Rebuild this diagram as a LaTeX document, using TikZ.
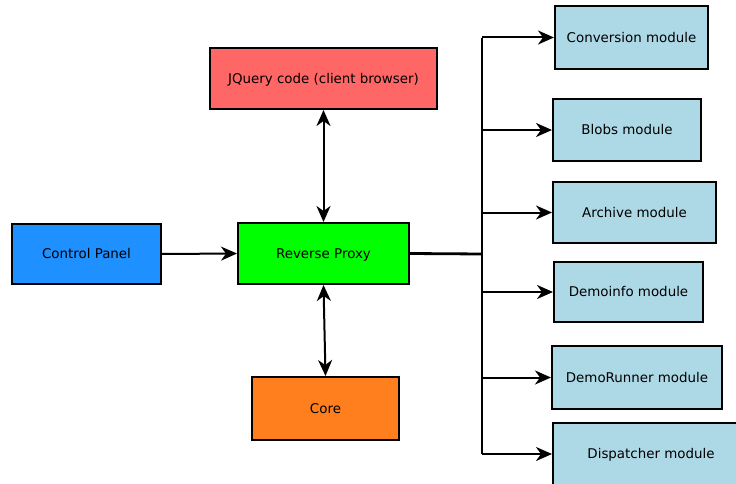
\documentclass[tikz,border=0pt]{standalone}
\usepackage{fontspec}
\setmainfont{DejaVu Sans}
\usetikzlibrary{arrows.meta}
\definecolor{jqred}{HTML}{FF6666}
\definecolor{cpblue}{HTML}{1E90FF}
\definecolor{rpgreen}{HTML}{00FF00}
\definecolor{coreorange}{HTML}{FF7F1E}
\definecolor{modblue}{HTML}{ADD8E6}
\begin{document}
\begin{tikzpicture}[x=1pt,y=-1pt,
  box/.style={draw=black,line width=2pt,inner sep=0pt,text height=9.8pt,text depth=0pt,font=\fontsize{13.4}{15}\selectfont},
  tip/.tip={Stealth[length=16pt,width=14pt,inset=5pt]},
  conn/.style={line width=2pt,-tip},
  bconn/.style={line width=2pt,tip-tip}]
\useasboundingbox (0,0) rectangle (736,484);
\clip (0,0) rectangle (736,484);
% main boxes
\node[box,fill=jqred,minimum width=227pt,minimum height=61pt] (jq) at (323.5,78.5) {JQuery code (client browser)};
\node[box,fill=cpblue,minimum width=149pt,minimum height=60pt] (cp) at (86.5,254) {Control Panel};
\node[box,fill=rpgreen,minimum width=171pt,minimum height=61pt] (rp) at (323.5,253.5) {Reverse Proxy};
\node[box,fill=coreorange,minimum width=147pt,minimum height=63pt] (core) at (325.5,408.5) {Core};
% modules
\node[box,fill=modblue,minimum width=153pt,minimum height=63pt] (m1) at (631.5,37.5) {Conversion module};
\node[box,fill=modblue,minimum width=148pt,minimum height=62pt] (m2) at (627,130) {Blobs module};
\node[box,fill=modblue,minimum width=163pt,minimum height=61pt] (m3) at (634.5,212.5) {Archive module};
\node[box,fill=modblue,minimum width=149pt,minimum height=60pt] (m4) at (628.5,292) {Demoinfo module};
\node[box,fill=modblue,minimum width=170pt,minimum height=63pt] (m5) at (637,377.5) {DemoRunner module};
\node[box,fill=modblue,minimum width=196pt,minimum height=62pt] (m6) at (651,454) {Dispatcher module};
% connectors
\draw[conn] (cp.east) -- (rp.east -| rp.west);
\draw[bconn] (jq.south) -- (rp.north);
\draw[bconn] (rp.south) -- (core.north);
\coordinate (trunk) at (482,254);
\draw[line width=2.8pt] (rp.east) -- (trunk);
\draw[line width=2pt] (482,38) -- (482,454);
\foreach \m in {m1,m2,m3,m4,m5,m6}{
  \draw[conn] (trunk |- \m.west) -- (\m.west);
}
\end{tikzpicture}
\end{document}
